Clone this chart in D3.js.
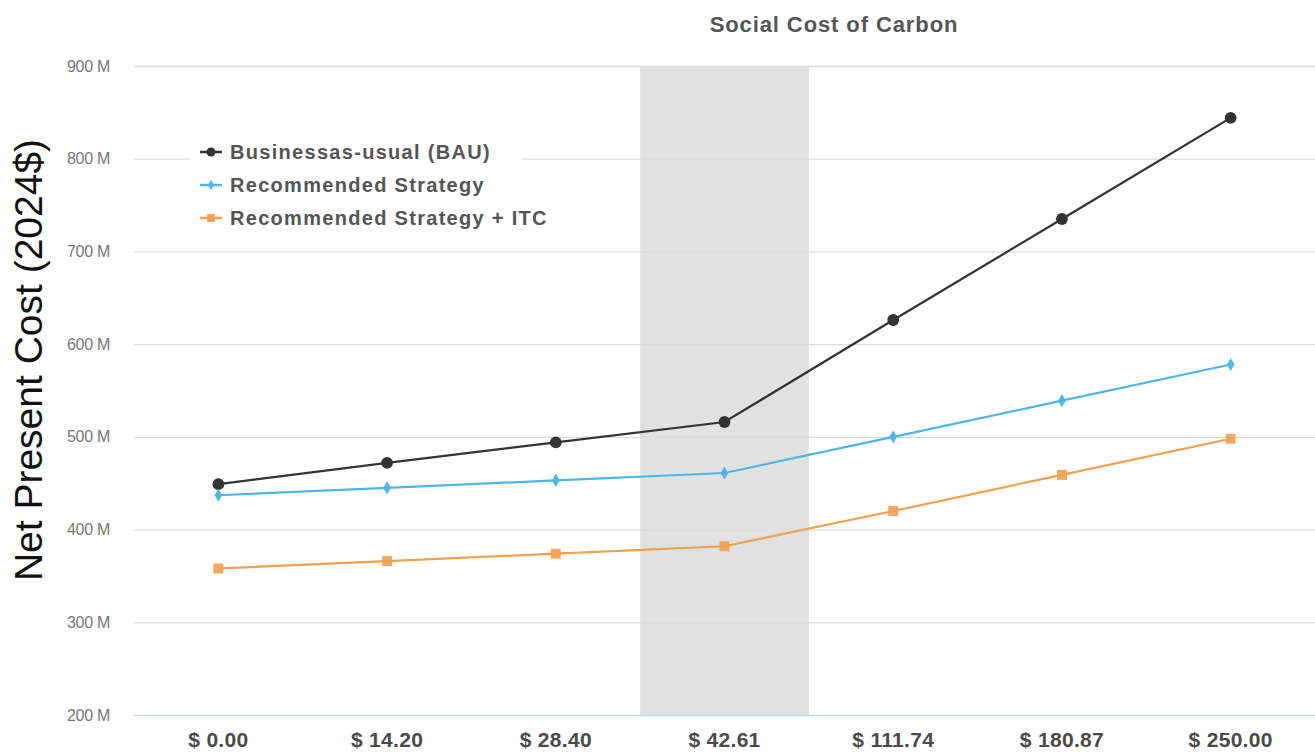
<!DOCTYPE html>
<html>
<head>
<meta charset="utf-8">
<script src="https://cdn.jsdelivr.net/npm/d3@7"></script>
<style>
  html, body { margin: 0; padding: 0; background: #fff; }
  svg { display: block; font-family: "Liberation Sans", Arial, sans-serif; }
</style>
</head>
<body>
<svg id="chart" width="1315" height="753"></svg>
<script>
// Social cost of carbon scenarios ($/tCO2)
const categories = ["$ 0.00", "$ 14.20", "$ 28.40", "$ 42.61", "$ 111.74", "$ 180.87", "$ 250.00"];
// Net present cost, millions of 2024$
const bauValues = [449, 472, 494, 516, 626, 735, 844];
const recValues = [437, 445, 453, 461, 500, 539, 578];
const itcValues = [358, 366, 374, 382, 420, 459, 498];
const yTicks = [200, 300, 400, 500, 600, 700, 800, 900];
const highlighted = "$ 42.61";

const series = [
  { name: "Businessas-usual (BAU)", values: bauValues, color: "#333333", marker: "circle" },
  { name: "Recommended Strategy", values: recValues, color: "#4db6e8", marker: "diamond" },
  { name: "Recommended Strategy + ITC", values: itcValues, color: "#f0a050", marker: "square" }
];

const svg = d3.select("#chart");
const margin = { left: 134, right: 0, top: 66, bottom: 38 };
const W = 1315, H = 753;

const x = d3.scaleBand().domain(categories).range([margin.left, W - margin.right]).padding(0);
const y = d3.scaleLinear().domain([200, 900]).range([H - margin.bottom, margin.top]);

// Highlighted band
svg.append("rect")
  .attr("x", x(highlighted))
  .attr("width", x.bandwidth())
  .attr("y", y(900))
  .attr("height", y(200) - y(900))
  .attr("fill", "#e1e1e1");

// Gridlines + y labels
const yAxis = d3.axisLeft(y).tickValues(yTicks)
  .tickSize(-(W - margin.left - margin.right))
  .tickPadding(24)
  .tickFormat(d => d + " M");
const gy = svg.append("g").attr("transform", `translate(${margin.left},0)`).call(yAxis);
gy.select(".domain").remove();
gy.selectAll(".tick line").attr("stroke", "#dcdcdc").attr("stroke-width", 1.3);
gy.selectAll(".tick text").attr("fill", "#777").attr("font-size", 16).attr("letter-spacing", -0.3);
gy.selectAll(".tick").filter(d => d === 200).select("line").attr("stroke", "#c9d6e6");

// X axis labels
const xAxis = d3.axisBottom(x).tickSize(0).tickPadding(17);
const gx = svg.append("g").attr("transform", `translate(0,${y(200)})`).call(xAxis);
gx.select(".domain").remove();
gx.selectAll(".tick text").attr("fill", "#4a4a4a").attr("font-size", 21)
  .attr("font-weight", "bold").attr("letter-spacing", 0.3);

// Lines and markers
const line = d3.line()
  .x((d, i) => x(categories[i]) + x.bandwidth() / 2)
  .y(d => y(d));

const symbolFor = { circle: d3.symbolCircle, diamond: d3.symbolDiamond, square: d3.symbolSquare };
const sizeFor = { circle: 110, diamond: 50, square: 100 };

series.forEach(s => {
  svg.append("path")
    .datum(s.values)
    .attr("d", line)
    .attr("fill", "none")
    .attr("stroke", s.color)
    .attr("stroke-width", 2.2);
  svg.append("g").selectAll("path")
    .data(s.values)
    .join("path")
    .attr("transform", (d, i) => `translate(${x(categories[i]) + x.bandwidth() / 2},${y(d)})`)
    .attr("d", d3.symbol().type(symbolFor[s.marker]).size(sizeFor[s.marker]))
    .attr("fill", s.color)
    .attr("opacity", s.marker === "square" ? 0.9 : 1);
});

// Legend
const legend = svg.append("g").attr("transform", "translate(190,135)");
legend.append("rect").attr("x", 0).attr("y", 0).attr("width", 332).attr("height", 100).attr("fill", "#fff");
series.forEach((s, i) => {
  const g = legend.append("g").attr("transform", `translate(0,${17 + i * 33})`);
  g.append("line").attr("x1", 10).attr("x2", 32).attr("y1", 0).attr("y2", 0)
    .attr("stroke", s.color).attr("stroke-width", 2.5);
  g.append("path").attr("transform", "translate(21,0)")
    .attr("d", d3.symbol().type(symbolFor[s.marker]).size(sizeFor[s.marker] * 0.6))
    .attr("fill", s.color);
  g.append("text").attr("x", 40).attr("y", 7)
    .attr("fill", "#555").attr("font-size", 20).attr("font-weight", "bold")
    .attr("letter-spacing", 1.3)
    .text(s.name);
});

// Title
svg.append("text").attr("x", 834).attr("y", 32).attr("text-anchor", "middle")
  .attr("fill", "#555").attr("font-size", 22).attr("font-weight", "bold")
  .attr("letter-spacing", 0.9)
  .text("Social Cost of Carbon");

// Y axis title
svg.append("text")
  .attr("transform", "translate(42,360) rotate(-90)")
  .attr("text-anchor", "middle")
  .attr("fill", "#111").attr("font-size", 39)
  .text("Net Present Cost (2024$)");
</script>
</body>
</html>
